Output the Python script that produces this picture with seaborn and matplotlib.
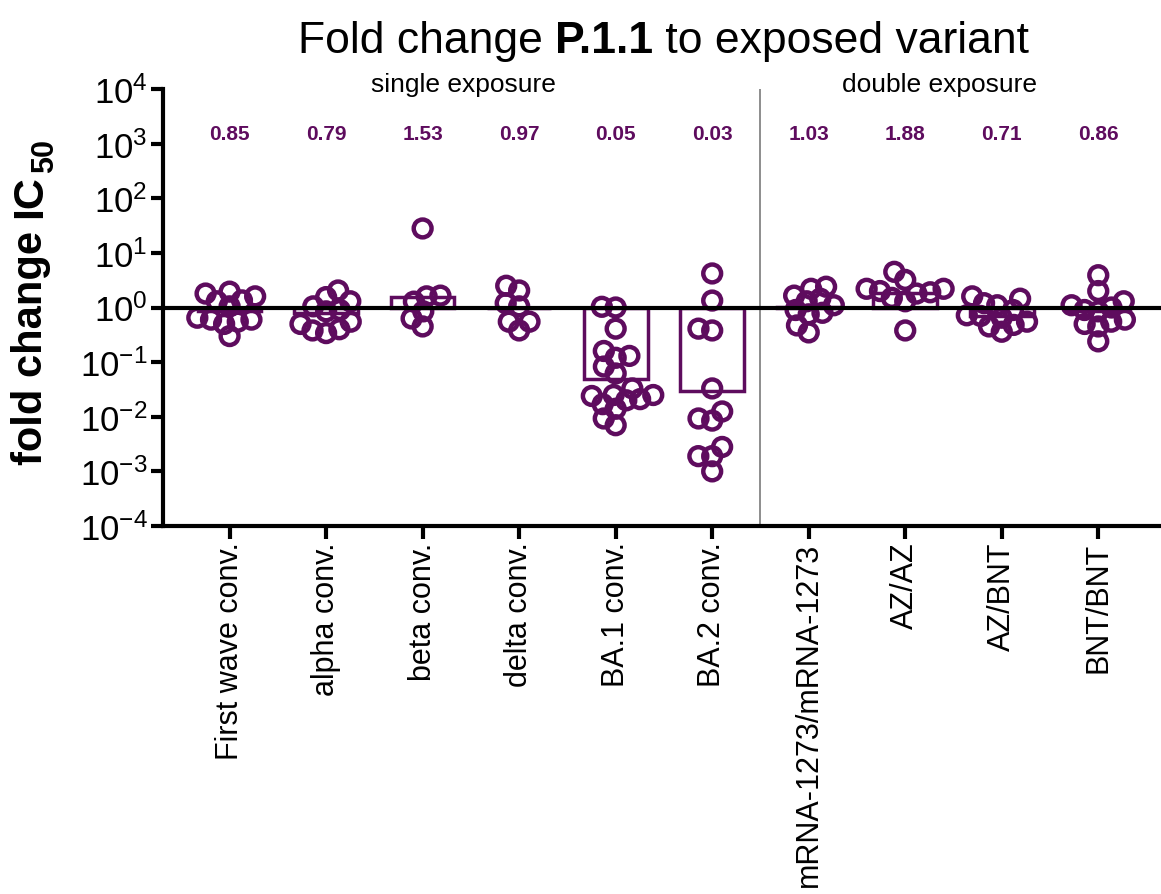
import numpy as np
import pandas as pd
import matplotlib
matplotlib.use("Agg")
import matplotlib.pyplot as plt
import seaborn as sns
from matplotlib import font_manager
from matplotlib.ticker import NullLocator

# ---- data -------------------------------------------------------------
categories = ["First wave conv.", "alpha conv.", "beta conv.", "delta conv.",
              "BA.1 conv.", "BA.2 conv.", "mRNA-1273/mRNA-1273", "AZ/AZ",
              "AZ/BNT", "BNT/BNT"]

first_wave = [1.8, 1.35, 1.6, 1.95, 1.3, 1.05, 0.6, 0.55, 0.6, 0.65, 0.5, 0.3]
alpha = [2.05, 1.55, 1.05, 1.3, 0.9, 0.85, 0.38, 0.55, 0.4, 0.5, 0.34]
beta = [28, 1.28, 1.65, 1.6, 0.85, 0.63, 0.45]
delta = [2.5, 1.05, 1.2, 2.05, 0.55, 0.55, 0.38]
ba1 = [1.03, 1.0, 0.41, 0.16, 0.13, 0.12, 0.083, 0.062, 0.033, 0.025,
       0.024, 0.021, 0.02, 0.025, 0.017, 0.014, 0.0093, 0.007]
ba2 = [4.2, 1.34, 0.38, 0.41, 0.033, 0.0093, 0.0125, 0.0085, 0.0028,
       0.0019, 0.0019, 0.001]
mrna = [1.45, 2.2, 1.65, 2.4, 1.1, 1.3, 0.9, 0.75, 0.8, 0.47, 0.35]
az_az = [2.2, 1.3, 3.2, 4.5, 2.2, 1.9, 2.0, 1.5, 1.8, 0.38]
az_bnt = [1.2, 1.45, 1.6, 1.1, 0.7, 0.65, 0.72, 0.9, 0.45, 0.48, 0.36, 0.55]
bnt_bnt = [3.9, 2.0, 0.6, 1.1, 1.3, 0.85, 0.55, 0.45, 0.5, 0.24, 0.9, 1.0]

series = [first_wave, alpha, beta, delta, ba1, ba2, mrna, az_az, az_bnt, bnt_bnt]

# geometric mean fold change per group (bar height and printed value)
geo_means = [0.85, 0.79, 1.53, 0.97, 0.05, 0.03, 1.03, 1.88, 0.71, 0.86]

yticks = [10.0 ** k for k in range(-4, 5)]

# ---- style ------------------------------------------------------------
PURPLE = "#5e0c5e"
W, H = 1161, 895

sns.set_theme(style="ticks")
plt.rcParams["font.family"] = ["Liberation Sans", "DejaVu Sans"]
plt.rcParams["mathtext.fontset"] = "custom"
plt.rcParams["mathtext.rm"] = "Liberation Sans"
plt.rcParams["mathtext.it"] = "Liberation Sans:italic"
plt.rcParams["mathtext.bf"] = "Liberation Sans:bold"
for key in ("text.color", "axes.labelcolor", "xtick.color", "ytick.color"):
    plt.rcParams[key] = "black"

installed = {f.name for f in font_manager.fontManager.ttflist}
if "Liberation Sans Narrow" in installed:
    title_family, title_size = "Liberation Sans Narrow", 38.5
else:
    title_family, title_size = "Liberation Sans", 32

df = pd.DataFrame({
    "group": np.repeat(categories, [len(s) for s in series]),
    "fold": np.concatenate([np.asarray(s, float) for s in series]),
})

fig = plt.figure(figsize=(W / 100, H / 100), dpi=100)
ax = fig.add_axes([163 / W, 1 - 527 / H, 1 - 163 / W, (527 - 90) / H])
ax.set_yscale("log")

# individual donors as a compact swarm
sns.swarmplot(data=df, x="group", y="fold", order=categories, ax=ax,
              size=8.5, color=PURPLE, edgecolor=PURPLE, linewidth=1,
              legend=False, zorder=3)
swarm_layers = list(ax.collections)

# geometric-mean bars drawn from 1 (no change)
x_pos = np.arange(len(categories))
ax.bar(x_pos, np.array(geo_means) - 1.0, bottom=1.0, width=0.66,
       facecolor="none", edgecolor=PURPLE, linewidth=2.5, zorder=2)

ax.axhline(1.0, color="black", linewidth=3, zorder=4)
ax.axvline(5.5, color="#7a7a7a", linewidth=1.2, zorder=1)

ax.set_xlim(-0.69, 9.65)
ax.set_ylim(1e-4, 1e4)
ax.set_yticks(yticks)
ax.yaxis.set_minor_locator(NullLocator())
ax.set_xticks(x_pos)
ax.set_xticklabels(categories, rotation=90)
ax.set_xlabel("")
ax.set_ylabel("")

for side in ("top", "right"):
    ax.spines[side].set_visible(False)
for side in ("left", "bottom"):
    ax.spines[side].set_linewidth(3)
    ax.spines[side].set_color("black")
ax.tick_params(axis="both", which="major", direction="out", length=9,
               width=3, color="black", labelcolor="black", left=True, bottom=True)
ax.tick_params(axis="y", labelsize=25, pad=2)
ax.tick_params(axis="x", labelsize=22, pad=2)

# printed geometric means
for xi, v in zip(x_pos, geo_means):
    ax.text(xi, 10 ** 3.187, f"{v:.2f}", ha="center", va="center",
            fontsize=15, fontweight="bold", color=PURPLE)

ax.text(2.42, 10 ** 3.97, "single exposure", ha="center", va="baseline",
        fontsize=19, color="black", clip_on=False)
ax.text(7.36, 10 ** 3.97, "double exposure", ha="center", va="baseline",
        fontsize=19, color="black", clip_on=False)

# ---- title with bold variant name ------------------------------------
fig.canvas.draw()
renderer = fig.canvas.get_renderer()
parts = [("Fold change ", "normal"), ("P.1.1", "bold"), (" to exposed variant", "normal")]
title_texts = []
for s, wgt in parts:
    t = fig.text(0, (H - 53) / H, s, ha="left", va="baseline", color="black",
                 fontsize=title_size, family=title_family, fontweight=wgt)
    title_texts.append(t)
widths = [t.get_window_extent(renderer).width for t in title_texts]
x0 = 663.5 - sum(widths) / 2
for t, wdt in zip(title_texts, widths):
    t.set_x(x0 / W)
    x0 += wdt

# ---- y-axis label: fold change IC50 ----------------------------------
lab1 = fig.text(42 / W, (H - 465) / H, "fold change", rotation=90,
                rotation_mode="anchor", ha="left", va="baseline",
                fontsize=30, fontweight="bold", color="black")
fig.canvas.draw()
top1 = lab1.get_window_extent(renderer).y1
lab2 = fig.text(41 / W, (top1 + 13) / H, "IC", rotation=90,
                rotation_mode="anchor", ha="left", va="baseline",
                fontsize=31, fontweight="bold", color="black")
fig.canvas.draw()
top2 = lab2.get_window_extent(renderer).y1
fig.text(53 / W, (top2 + 2) / H, "50", rotation=90,
         rotation_mode="anchor", ha="left", va="baseline",
         fontsize=22, fontweight="bold", color="black")

# fix the swarm layout, then draw full-size open circles over it
fig.canvas.draw()
for coll in swarm_layers:
    coll.__dict__.pop("draw", None)
    coll.set_facecolor("none")
    coll.set_edgecolor(PURPLE)
    coll.set_linewidth(3.2)
    coll.set_sizes([165])

fig.savefig("out.png", dpi=100, facecolor="white")
